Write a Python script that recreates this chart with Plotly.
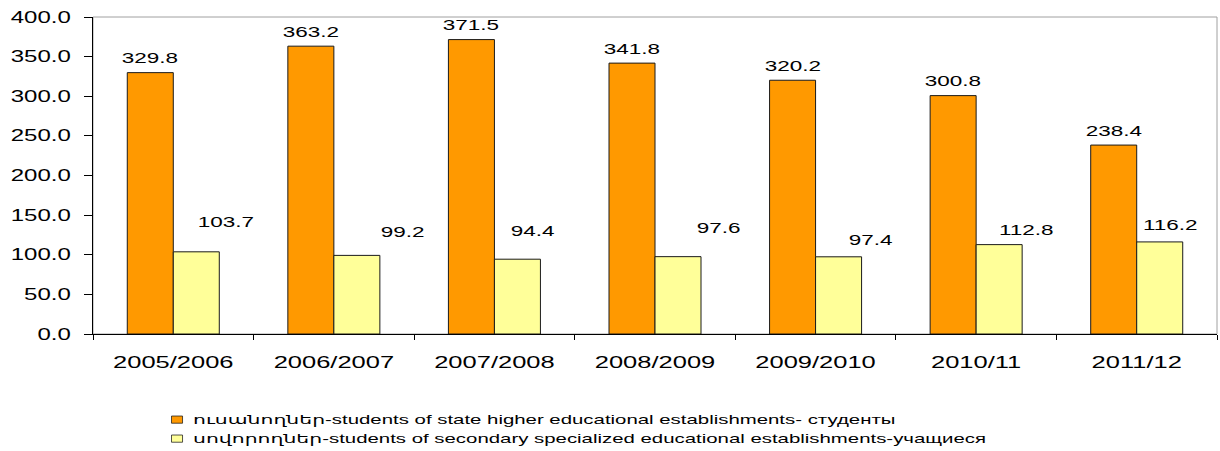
import plotly.graph_objects as go

categories = ["2005/2006", "2006/2007", "2007/2008", "2008/2009", "2009/2010", "2010/11", "2011/12"]
higher = [329.8, 363.2, 371.5, 341.8, 320.2, 300.8, 238.4]
secondary = [103.7, 99.2, 94.4, 97.6, 97.4, 112.8, 116.2]
tick_vals = [0, 50, 100, 150, 200, 250, 300, 350, 400]
tick_text = ["0.0", "50.0", "100.0", "150.0", "200.0", "250.0", "300.0", "350.0", "400.0"]

name_higher = "ուսանողներ-students of state higher educational establishments- студенты"
name_secondary = "սովորողներ-students of secondary specialized educational establishments-учащиеся"

# label placement (pixel offsets) for the secondary series labels
sec_dx = [30, 46, 15, 40, 32, 27, 10]
sec_dy = [30, 24, 29, 29, 17, 15, 17]

FONT = "Liberation Sans, Arial, DejaVu Sans, sans-serif"

fig = go.Figure()
fig.add_trace(go.Bar(x=categories, y=higher, name=name_higher,
                     marker=dict(color="#FF9900", line=dict(color="#1a1a1a", width=1))))
fig.add_trace(go.Bar(x=categories, y=secondary, name=name_secondary,
                     marker=dict(color="#FFFF99", line=dict(color="#1a1a1a", width=1))))

ann = []
for i, c in enumerate(categories):
    ann.append(dict(x=c, y=higher[i], xref="x", yref="y", text=f"{higher[i]:.1f}",
                    showarrow=False, xshift=-23, yshift=15, yanchor="middle",
                    font=dict(family=FONT, size=15, color="#000")))
    ann.append(dict(x=c, y=secondary[i], xref="x", yref="y", text=f"{secondary[i]:.1f}",
                    showarrow=False, xshift=23 + sec_dx[i], yshift=sec_dy[i], yanchor="middle",
                    font=dict(family=FONT, size=15, color="#000")))

fig.update_layout(
    width=1220, height=451,
    margin=dict(l=93, r=3, t=17, b=117),
    paper_bgcolor="white", plot_bgcolor="white",
    barmode="group", bargap=0.427, bargroupgap=0,
    font=dict(family=FONT, size=15, color="#000"),
    annotations=ann,
    shapes=[dict(type="rect", xref="paper", yref="paper", x0=0, x1=1, y0=0, y1=1,
                 line=dict(color="#a0a0a0", width=1), layer="below")],
    legend=dict(orientation="v", x=0.0534, y=-0.36, xanchor="left", yanchor="bottom",
                font=dict(family=FONT, size=12, color="#000"), traceorder="normal",
                tracegroupgap=0, bgcolor="rgba(0,0,0,0)"),
    xaxis=dict(type="category", tickson="boundaries", ticks="outside", ticklen=5,
               tickcolor="#000", showline=True, linecolor="#000", linewidth=1,
               showgrid=False, tickfont=dict(family=FONT, size=17),
               ticklabelstandoff=13),
    yaxis=dict(range=[0, 400], tickvals=tick_vals, ticktext=tick_text, ticks="outside",
               ticklen=8, tickcolor="#000", showline=True, linecolor="#000", linewidth=1,
               showgrid=False, zeroline=False, tickfont=dict(family=FONT, size=16),
               ticklabelstandoff=10),
)

post = """
document.body.style.margin = '0';
document.body.style.overflow = 'hidden';
var gd = document.getElementById('{plot_id}');
function stretchText() {
  gd.querySelectorAll('.legend [clip-path]').forEach(function (e) { e.removeAttribute('clip-path'); });
  gd.querySelectorAll('svg text').forEach(function (t) {
    if (t.getAttribute('data-stretched')) return;
    var S = t.closest('.legend') ? 1.7 : 1.5;
    var bb = t.getBBox();
    var anchor = t.getAttribute('text-anchor') || window.getComputedStyle(t).textAnchor || 'start';
    var ax = bb.x;
    if (anchor === 'middle') ax = bb.x + bb.width / 2;
    else if (anchor === 'end') ax = bb.x + bb.width;
    var tr = t.getAttribute('transform') || '';
    t.setAttribute('transform', tr + ' translate(' + ax + ',0) scale(' + S + ',1) translate(' + (-ax) + ',0)');
    t.setAttribute('data-stretched', '1');
  });
  gd.querySelectorAll('.legend .legendpoints path').forEach(function (p) {
    if (p.getAttribute('data-stretched')) return;
    var tr = p.getAttribute('transform') || '';
    p.setAttribute('transform', tr + ' translate(4,0) scale(0.92,0.6)');
    p.setAttribute('data-stretched', '1');
  });
  var lg = gd.querySelector('g.legend');
  if (lg && !lg.getAttribute('data-moved')) {
    lg.setAttribute('transform', (lg.getAttribute('transform') || '') + ' translate(0,5)');
    lg.setAttribute('data-moved', '1');
  }
}
stretchText();
"""

fig.write_html("out.html", post_script=post, config={"displayModeBar": False})
